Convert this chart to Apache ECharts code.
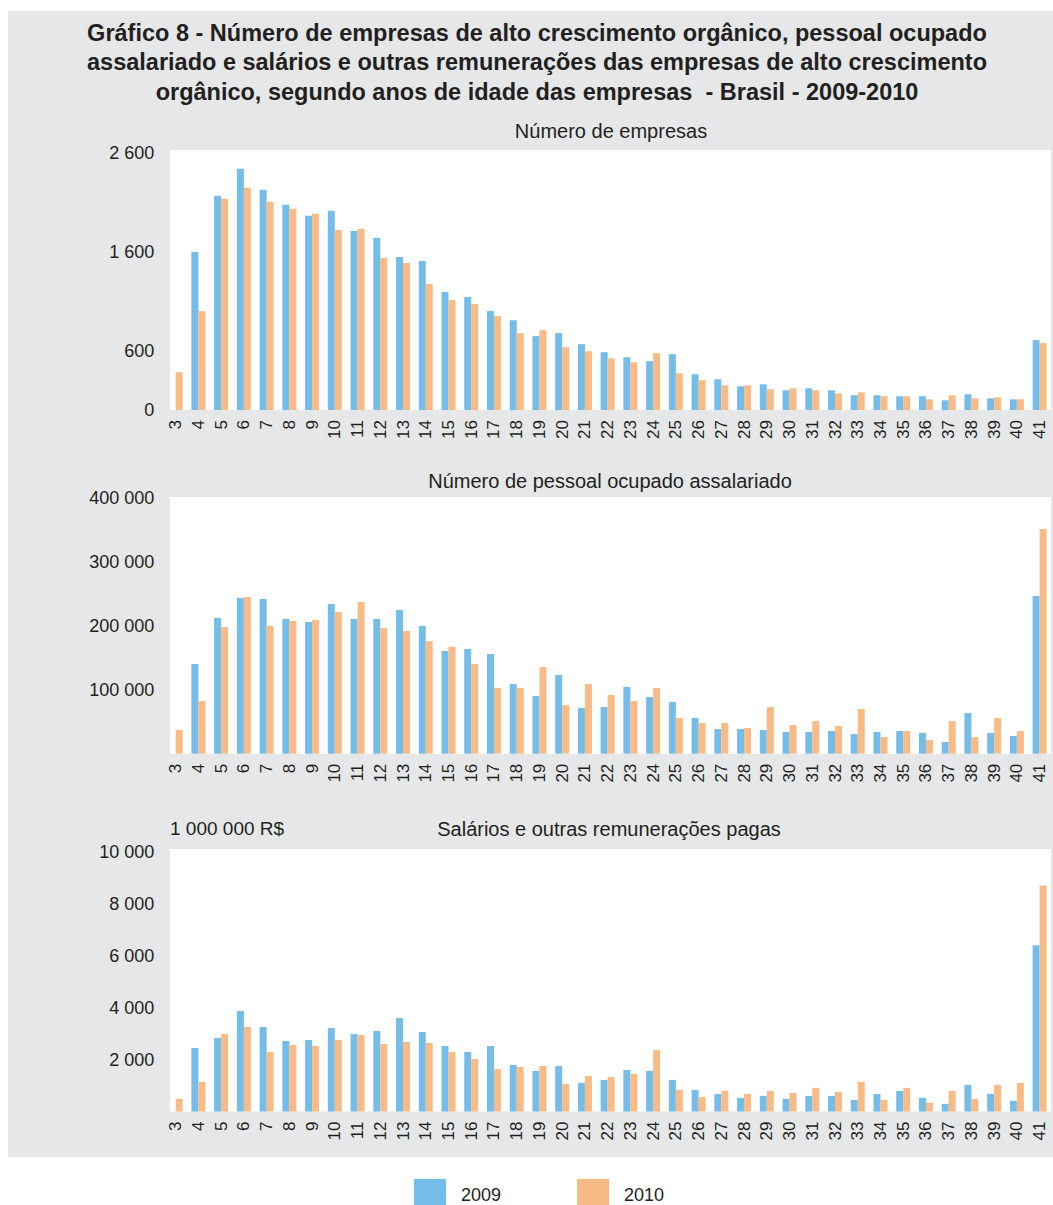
<!DOCTYPE html>
<html>
<head>
<meta charset="utf-8">
<script src="https://cdn.jsdelivr.net/npm/echarts@6/dist/echarts.min.js"></script>
<style>
html,body{margin:0;padding:0;background:#fff;}
#chart{width:1053px;height:1205px;}
</style>
</head>
<body>
<div id="chart"></div>
<script>
const ages = ['3','4','5','6','7','8','9','10','11','12','13','14','15','16','17','18','19','20','21','22','23','24','25','26','27','28','29','30','31','32','33','34','35','36','37','38','39','40','41'];

const empresas2009 = [0,1599,2167,2441,2228,2076,1964,2015,1812,1741,1549,1508,1193,1143,1001,909,747,778,666,585,534,494,565,362,311,240,260,199,220,199,149,149,139,139,98,159,118,108,707];
const empresas2010 = [382,1001,2137,2248,2106,2035,1985,1822,1833,1538,1488,1275,1112,1072,950,778,808,636,595,524,483,575,372,301,250,250,210,220,199,169,179,139,139,108,149,118,128,108,676];

const pessoal2009 = [0,140100,212000,243200,241700,210400,205700,233800,210400,210400,224500,199500,160400,163500,155700,108800,90100,122900,71400,72900,104200,88500,80700,55700,38500,38500,37000,33900,33900,35400,30700,33900,35400,32300,18200,63500,32300,27600,246300];
const pessoal2010 = [37000,82300,197900,244800,199500,207300,208800,221300,237000,196300,191700,176000,167200,140100,102600,102600,135400,76000,108800,91700,82300,102600,55700,47900,47900,40100,72900,44800,51000,43200,69800,26000,35400,21400,51000,26000,55700,35400,351000];

const salarios2009 = [0,2443,2827,3863,3249,2711,2750,3210,2980,3095,3594,3057,2520,2289,2520,1791,1560,1752,1100,1215,1599,1560,1215,831,678,524,601,486,601,601,448,678,793,524,294,1023,678,409,6395];
const salarios2010 = [486,1138,2980,3249,2289,2558,2520,2750,2942,2596,2673,2635,2289,2021,1637,1714,1752,1062,1369,1330,1445,2366,831,563,793,678,793,716,908,755,1138,448,908,333,793,486,1023,1100,8696];

const ticks1 = [0,600,1600,2600];
const ticks2 = [100000,200000,300000,400000];
const ticks3 = [2000,4000,6000,8000,10000];

const titleLines = [
  'Gráfico 8 - Número de empresas de alto crescimento orgânico, pessoal ocupado',
  'assalariado e salários e outras remunerações das empresas de alto crescimento',
  'orgânico, segundo anos de idade das empresas  - Brasil - 2009-2010'
];
const panelTitles = ['Número de empresas','Número de pessoal ocupado assalariado','Salários e outras remunerações pagas'];
const unitLabel = '1 000 000 R$';

const FONT = 'Liberation Sans, Arial, sans-serif';
const TXT = '#231f20';
const BLUE = '#74bde8';
const ORANGE = '#f9bb85';

function fmt(v){ return String(v).replace(/\B(?=(\d{3})+(?!\d))/g,' '); }

const gridLeft = 164.3, gridWidth = 886.7;
const grids = [
  {left:gridLeft, width:gridWidth, top:153, height:257},
  {left:gridLeft, width:gridWidth, top:497.7, height:256},
  {left:gridLeft, width:gridWidth, top:851.5, height:260}
];

function xAxis(i){
  return {
    type:'category', gridIndex:i, data:ages,
    axisLine:{show:false}, axisTick:{show:false},
    axisLabel:{interval:0, rotate:90, margin:10, color:TXT, fontSize:17, fontFamily:FONT}
  };
}
function yAxis(i, max, interval, shown){
  return {
    type:'value', gridIndex:i, min:0, max:max, interval:interval,
    splitLine:{show:false}, axisLine:{show:false}, axisTick:{show:false},
    axisLabel:{margin:10, color:TXT, fontSize:18, fontFamily:FONT,
      formatter:function(v){ return shown.indexOf(v) >= 0 ? fmt(v) : ''; }}
  };
}
function bars(name, data, i, color){
  return {
    name:name, type:'bar', xAxisIndex:i, yAxisIndex:i, data:data,
    barWidth:7, barGap:'0%', itemStyle:{color:color}, animation:false
  };
}

const chart = echarts.init(document.getElementById('chart'), null, {renderer:'svg'});
chart.setOption({
  animation:false,
  backgroundColor:'#ffffff',
  graphic:[
    {type:'rect', z:-10, shape:{x:8,y:11,width:1045,height:1146}, style:{fill:'#e6e7e8'}},
    {type:'rect', z:-9, shape:{x:170,y:150,width:881,height:260}, style:{fill:'#ffffff'}},
    {type:'rect', z:-9, shape:{x:170,y:497,width:881,height:257}, style:{fill:'#ffffff'}},
    {type:'rect', z:-9, shape:{x:170,y:849,width:881,height:262.5}, style:{fill:'#ffffff'}}
  ],
  title:[
    {text:titleLines.join('\n'), left:537, top:18, textAlign:'center', padding:0,
     textStyle:{fontSize:23.5, fontWeight:'bold', lineHeight:29.5, color:TXT, fontFamily:FONT}},
    {text:panelTitles[0], left:611, top:121, textAlign:'center', padding:0,
     textStyle:{fontSize:20, fontWeight:'normal', color:TXT, fontFamily:FONT}},
    {text:panelTitles[1], left:610, top:471, textAlign:'center', padding:0,
     textStyle:{fontSize:20, fontWeight:'normal', color:TXT, fontFamily:FONT}},
    {text:panelTitles[2], left:609, top:819, textAlign:'center', padding:0,
     textStyle:{fontSize:20, fontWeight:'normal', color:TXT, fontFamily:FONT}},
    {text:unitLabel, left:170, top:819, padding:0,
     textStyle:{fontSize:19, fontWeight:'normal', color:TXT, fontFamily:FONT}}
  ],
  legend:{
    data:['2009','2010'], left:414, top:1179, icon:'rect',
    itemWidth:32, itemHeight:32, itemGap:76, padding:0,
    textStyle:{fontSize:18, color:TXT, fontFamily:FONT, padding:[0,0,0,10]}
  },
  grid:grids,
  xAxis:[xAxis(0), xAxis(1), xAxis(2)],
  yAxis:[yAxis(0,2600,200,ticks1), yAxis(1,400000,100000,ticks2), yAxis(2,10000,2000,ticks3)],
  series:[
    bars('2009', empresas2009, 0, BLUE),
    bars('2010', empresas2010, 0, ORANGE),
    bars('2009', pessoal2009, 1, BLUE),
    bars('2010', pessoal2010, 1, ORANGE),
    bars('2009', salarios2009, 2, BLUE),
    bars('2010', salarios2010, 2, ORANGE)
  ]
});
</script>
</body>
</html>
